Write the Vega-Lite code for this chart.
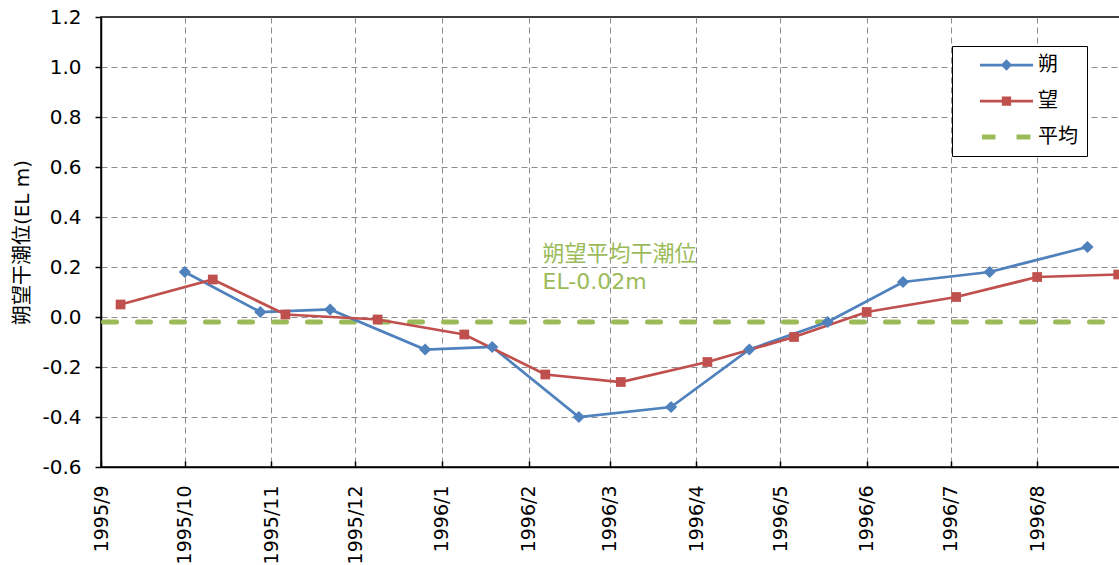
{
  "$schema": "https://vega.github.io/schema/vega-lite/v6.json",
  "width": 1020,
  "height": 450,
  "autosize": {"type": "none"},
  "padding": {"left": 101, "top": 17, "right": 0, "bottom": 98},
  "config": {
    "font": "DejaVu Sans, Noto Sans CJK JP",
    "view": {"stroke": "#000000", "strokeWidth": 1.5},
    "axis": {
      "domainColor": "#000000", "domainWidth": 1.5,
      "tickColor": "#000000", "tickWidth": 1.5,
      "labelColor": "#000000", "titleColor": "#000000",
      "gridColor": "#8c8c8c", "gridDash": [6, 4], "gridWidth": 1,
      "labelFontSize": 20, "titleFontSize": 20, "titleFontWeight": "normal"
    }
  },
  "datasets": {
    "tide": [
      {"series": "朔", "date": "1995-10-01T00:00:00", "value": 0.18},
      {"series": "朔", "date": "1995-10-28T00:00:00", "value": 0.02},
      {"series": "朔", "date": "1995-11-22T00:00:00", "value": 0.03},
      {"series": "朔", "date": "1995-12-26T00:00:00", "value": -0.13},
      {"series": "朔", "date": "1996-01-19T00:00:00", "value": -0.12},
      {"series": "朔", "date": "1996-02-19T00:00:00", "value": -0.40},
      {"series": "朔", "date": "1996-03-23T00:00:00", "value": -0.36},
      {"series": "朔", "date": "1996-04-20T00:00:00", "value": -0.13},
      {"series": "朔", "date": "1996-05-18T00:00:00", "value": -0.02},
      {"series": "朔", "date": "1996-06-14T00:00:00", "value": 0.14},
      {"series": "朔", "date": "1996-07-15T00:00:00", "value": 0.18},
      {"series": "朔", "date": "1996-08-19T00:00:00", "value": 0.28},
      {"series": "望", "date": "1995-09-08T00:00:00", "value": 0.05},
      {"series": "望", "date": "1995-10-11T00:00:00", "value": 0.15},
      {"series": "望", "date": "1995-11-06T00:00:00", "value": 0.01},
      {"series": "望", "date": "1995-12-09T00:00:00", "value": -0.01},
      {"series": "望", "date": "1996-01-09T00:00:00", "value": -0.07},
      {"series": "望", "date": "1996-02-07T00:00:00", "value": -0.23},
      {"series": "望", "date": "1996-03-05T00:00:00", "value": -0.26},
      {"series": "望", "date": "1996-04-05T00:00:00", "value": -0.18},
      {"series": "望", "date": "1996-05-06T00:00:00", "value": -0.08},
      {"series": "望", "date": "1996-06-01T00:00:00", "value": 0.02},
      {"series": "望", "date": "1996-07-03T00:00:00", "value": 0.08},
      {"series": "望", "date": "1996-08-01T00:00:00", "value": 0.16},
      {"series": "望", "date": "1996-08-30T00:00:00", "value": 0.17}
    ],
    "mean": [
      {"series": "平均", "date": "1995-09-01T00:00:00", "value": -0.02},
      {"series": "平均", "date": "1996-08-31T00:00:00", "value": -0.02}
    ],
    "note": [
      {"date": "1996-02-06T00:00:00", "value": 0.224, "text": "朔望平均干潮位"},
      {"date": "1996-02-06T00:00:00", "value": 0.112, "text": "EL-0.02m"}
    ]
  },
  "layer": [
    {
      "data": {"name": "mean"},
      "mark": {"type": "line", "strokeWidth": 5, "strokeDash": [13, 21], "strokeDashOffset": 31.5, "strokeCap": "round"},
      "encoding": {
        "x": {
          "field": "date", "type": "temporal",
          "scale": {"domain": [{"year": 1995, "month": 9, "date": 1}, {"year": 1996, "month": 8, "date": 31}]},
          "axis": {
            "title": null, "format": "%Y/%-m",
            "tickCount": {"interval": "month", "step": 1},
            "labelAngle": 270, "labelAlign": "right", "labelBaseline": "middle",
            "labelFontSize": 19, "tickSize": -6, "labelPadding": 24,
            "labelOverlap": false, "labelFlush": false
          }
        },
        "y": {
          "field": "value", "type": "quantitative",
          "scale": {"domain": [-0.6, 1.2], "nice": false, "zero": false},
          "axis": {
            "title": "朔望干潮位(EL m)",
            "values": [-0.6, -0.4, -0.2, 0, 0.2, 0.4, 0.6, 0.8, 1.0, 1.2],
            "labelExpr": "replace(format(datum.value, '.1f'), '\u2212', '-')",
            "tickSize": 6, "labelPadding": 14,
            "titleX": -69, "titleY": 225, "titleAngle": 270,
            "titleAlign": "center", "titleBaseline": "bottom",
            "gridColor": {"condition": {"test": "datum.value === 1.2", "value": "transparent"}, "value": "#8c8c8c"}
          }
        },
        "color": {"field": "series", "type": "nominal"}
      }
    },
    {
      "data": {"name": "tide"},
      "mark": {"type": "line", "strokeWidth": 2.75},
      "encoding": {
        "x": {"field": "date", "type": "temporal"},
        "y": {"field": "value", "type": "quantitative"},
        "color": {
          "field": "series", "type": "nominal",
          "scale": {"domain": ["朔", "望", "平均"], "range": ["#4F81BD", "#C0504D", "#9BBB59"]},
          "legend": {
            "title": null, "orient": "none", "legendX": 851, "legendY": 29,
            "padding": 9, "symbolOffset": 35.5, "rowPadding": 16, "labelOffset": 21.5,
            "labelFontSize": 20, "labelColor": "#000000",
            "strokeColor": "#000000", "fillColor": "#ffffff",
            "labelExpr": "datum.label + '\u00a0\u00a0\u00a0\u00a0'",
            "symbolType": {"expr": "datum.value === '朔' ? 'M-5.3,0H5.3M0,-0.75L0.75,0L0,0.75L-0.75,0Z' : datum.value === '望' ? 'M-5.3,0H5.3M-0.65,-0.65H0.65V0.65H-0.65Z' : 'M-4.9,0H-2.2M2.0,0H4.8'"},
            "symbolSize": 100,
            "symbolStrokeWidth": {"expr": "datum.value === '平均' ? 5 : 2.75"},
            "symbolFillColor": {"expr": "scale('color', datum.value)"},
            "symbolStrokeColor": {"expr": "scale('color', datum.value)"},
            "symbolOpacity": 1
          }
        }
      }
    },
    {
      "data": {"name": "tide"},
      "mark": {"type": "point", "filled": true, "opacity": 1},
      "encoding": {
        "x": {"field": "date", "type": "temporal"},
        "y": {"field": "value", "type": "quantitative"},
        "color": {"field": "series", "type": "nominal"},
        "shape": {"field": "series", "type": "nominal", "scale": {"domain": ["朔", "望"], "range": ["diamond", "square"]}, "legend": null},
        "size": {"field": "series", "type": "ordinal", "scale": {"domain": ["朔", "望"], "range": [150, 95]}, "legend": null}
      }
    },
    {
      "data": {"name": "note"},
      "mark": {"type": "text", "align": "left", "baseline": "alphabetic", "fontSize": 22, "color": "#9BBB59"},
      "encoding": {
        "x": {"field": "date", "type": "temporal"},
        "y": {"field": "value", "type": "quantitative"},
        "text": {"field": "text"}
      }
    }
  ]
}
